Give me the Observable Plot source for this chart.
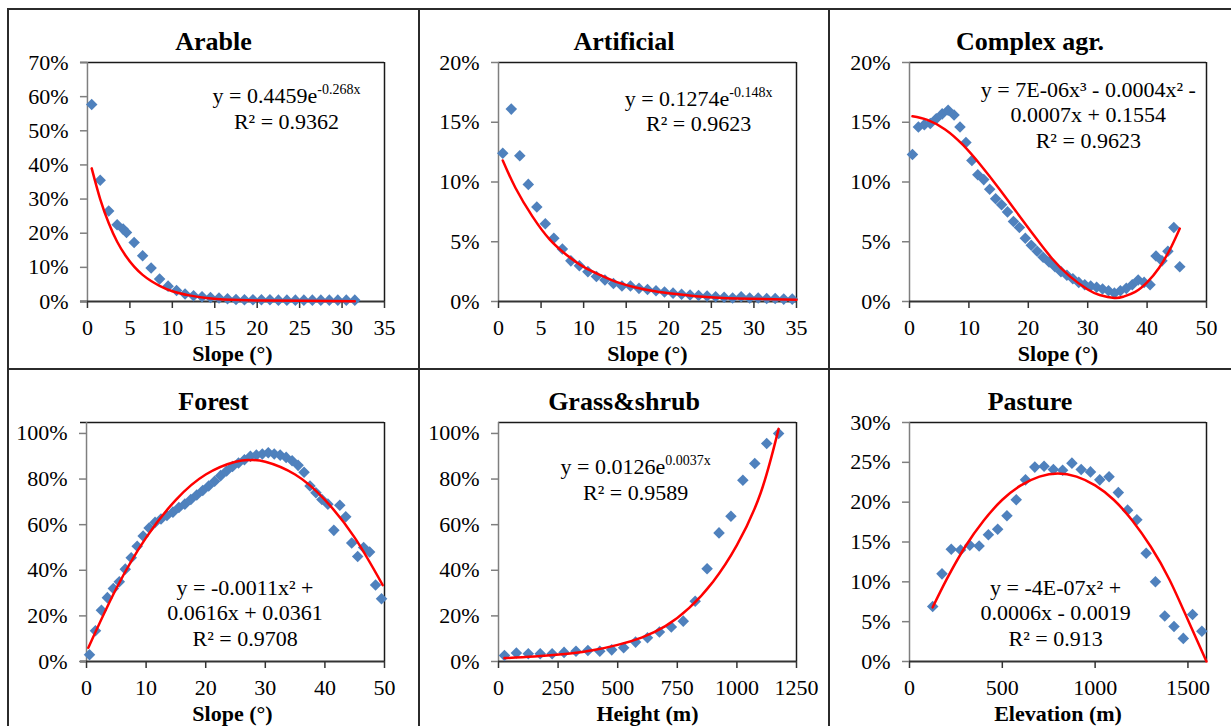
<!DOCTYPE html>
<html><head><meta charset="utf-8">
<script src="https://cdn.jsdelivr.net/npm/d3@7"></script>
<script src="https://cdn.jsdelivr.net/npm/@observablehq/plot@0.6"></script>
<style>
body{margin:0;background:#fff;width:1231px;height:726px;overflow:hidden;position:relative;font-family:"Liberation Serif","Times New Roman",serif;}
.cell{position:absolute;}
.cell svg{position:absolute;left:0;top:0;font-family:"Liberation Serif","Times New Roman",serif !important;}
.title{position:absolute;left:0;right:0;top:18px;height:30px;line-height:30px;text-align:center;font-weight:bold;font-size:26px;color:#000;}
.bline{position:absolute;background:#2b2b2b;}
</style></head><body>
<script>
// ---------- data (values in %) ----------
const arableX = [0.5,1.5,2.5,3.5,4.2,4.6,5.5,6.5,7.5,8.5,9.5,10.5,11.5,12.5,13.5,14.5,15.5,16.5,17.5,18.5,19.5,20.5,21.5,22.5,23.5,24.5,25.5,26.5,27.5,28.5,29.5,30.5,31.5];
const arableY = [57.7,35.5,26.5,22.5,21.2,20.2,17.3,13.4,9.8,6.6,4.5,3.2,2.2,1.7,1.4,1.2,1.0,0.8,0.6,0.5,0.5,0.5,0.5,0.4,0.4,0.4,0.4,0.4,0.4,0.4,0.4,0.4,0.4];
const arableFitX = [0.5,1.5,2.5,3.5,4.5,5.5,6.5,7.5,8.5,10,12,14,16,20,25,31.5];
const arableFitY = [39,30,23,17.5,13.4,10.2,7.8,6.0,4.6,3.0,1.8,1.0,0.6,0.3,0.2,0.1];

const artificialX = [0.5,1.5,2.5,3.5,4.5,5.5,6.5,7.5,8.5,9.5,10.5,11.5,12.5,13.5,14.5,15.5,16.5,17.5,18.5,19.5,20.5,21.5,22.5,23.5,24.5,25.5,26.5,27.5,28.5,29.5,30.5,31.5,32.5,33.5,34.5];
const artificialY = [12.4,16.1,12.2,9.8,7.9,6.5,5.3,4.4,3.4,3.0,2.5,2.1,1.8,1.5,1.3,1.3,1.1,1.0,0.9,0.8,0.7,0.6,0.55,0.5,0.45,0.4,0.35,0.3,0.4,0.3,0.3,0.25,0.25,0.2,0.2];
const artificialFitX = [0.5,2,4,6,8,10,12,14,16,18,20,24,28,35];
const artificialFitY = [11.8,9.5,7.1,5.2,3.9,2.9,2.2,1.6,1.2,0.9,0.7,0.4,0.25,0.15];

const complexX = [0.5,1.5,2.5,3.5,4.5,5.5,6.5,7.5,8.5,9.5,10.5,11.5,12.5,13.5,14.5,15.5,16.5,17.5,18.5,19.5,20.5,21.5,22.5,23.5,24.5,25.5,26.5,27.5,28.5,29.5,30.5,31.5,32.5,33.5,34.5,35.5,36.5,37.5,38.5,39.5,40.5,41.5,42.5,43.5,44.5,45.5];
const complexY = [12.3,14.6,14.8,14.9,15.3,15.7,16.0,15.6,14.6,13.3,11.8,10.6,10.2,9.4,8.6,8.1,7.5,6.7,6.2,5.3,4.7,4.2,3.7,3.3,2.9,2.5,2.2,1.9,1.6,1.4,1.3,1.2,1.05,0.9,0.7,0.9,1.1,1.4,1.8,1.6,1.4,3.8,3.4,4.2,6.2,2.9];
const complexFitX = [0.5,3,6,9,12,15,18,21,24,27,30,32,34.5,36,38,40,42,44,45.5];
const complexFitY = [15.5,15.2,14.4,13.1,11.4,9.5,7.5,5.5,3.6,2.1,1.0,0.55,0.3,0.4,0.8,1.6,2.8,4.5,6.1];

const forestX = [0.5,1.5,2.5,3.5,4.5,5.5,6.5,7.5,8.5,9.5,10.5,11.5,12.5,13.5,14.5,15.5,16.5,17.5,18.5,19.5,20.5,21.5,22.5,23.5,24.5,25.5,26.5,27.5,28.5,29.5,30.5,31.5,32.5,33.5,34.5,35.5,36.5,37.5,38.5,39.5,40.5,41.5,42.5,43.5,44.5,45.5,46.5,47.5,48.5,49.5];
const forestY = [3,13.5,22.5,28,32,35,40.5,45.5,50.5,55,58.5,61,62.5,64,65.5,67.5,69,71,73,75,77,79,81.5,83.5,85.5,87,88.5,90,90.5,91,91.5,91,90.5,89.5,88,86,83,77,74,71,69,57.5,68.5,63.5,52,46,50,48,33.5,27.5];
const forestFitX = [0.3,5,10,15,20,25,27.5,30,35,40,45,49.7];
const forestFitY = [6,32,54.3,70.9,82,87.6,88.3,87.6,82,70.9,54.3,33.5];

const grassX = [25,75,125,175,225,275,325,375,425,475,525,575,625,675,725,775,825,875,925,975,1025,1075,1125,1175];
const grassY = [2.6,3.7,3.4,3.4,3.4,4.0,4.5,4.8,4.5,5.1,6.0,8.5,10.4,12.9,15.1,17.7,26.4,40.7,56.4,63.7,79.5,86.8,95.6,100];
const grassFitX = [25,150,300,400,500,600,700,800,900,1000,1100,1175];
const grassFitY = [1.5,2.2,3.5,5,7.3,10.5,15.5,23.5,35,51,74,102];

const pastureX = [125,175,225,275,325,375,425,475,525,575,625,675,725,775,825,875,925,975,1025,1075,1125,1175,1225,1275,1325,1375,1425,1475,1525,1575];
const pastureY = [6.9,11.0,14.1,14.0,14.6,14.5,15.9,16.6,18.3,20.3,22.8,24.4,24.5,24.1,24.0,24.9,24.1,23.8,22.8,23.2,21.2,19.0,17.8,13.6,10.0,5.7,4.4,2.9,5.9,3.8];
const pastureFitX = [125,200,300,400,500,600,700,800,900,1000,1100,1200,1300,1400,1500,1600];
const pastureFitY = [6.8,10.3,14.4,17.7,20.3,22.1,23.2,23.6,23.2,22.1,20.3,17.7,14.4,10.3,5.2,0];

const titles = ["Arable","Artificial","Complex agr.","Forest","Grass&shrub","Pasture"];
const xLabels = ["Slope (°)","Slope (°)","Slope (°)","Slope (°)","Height (m)","Elevation (m)"];
const equations = [
  "y = 0.4459e^-0.268x\nR² = 0.9362",
  "y = 0.1274e^-0.148x\nR² = 0.9623",
  "y = 7E-06x³ - 0.0004x² -\n0.0007x + 0.1554\nR² = 0.9623",
  "y = -0.0011x² +\n0.0616x + 0.0361\nR² = 0.9708",
  "y = 0.0126e^0.0037x\nR² = 0.9589",
  "y = -4E-07x² +\n0.0006x - 0.0019\nR² = 0.913"
];
const xTicksList = [d3.range(0,36,5), d3.range(0,36,5), d3.range(0,51,10), d3.range(0,51,10), d3.range(0,1251,250), [0,500,1000,1500]];
const yTicksList = [d3.range(0,0.71,0.1), d3.range(0,0.201,0.05), d3.range(0,0.201,0.05), d3.range(0,1.01,0.2), d3.range(0,1.01,0.2), d3.range(0,0.301,0.05)];
const xDomains = [[-0.82,35],[0,35],[0,50],[-1.01,50],[0,1250],[0,1600]];
const yDomains = [[0,0.7],[0,0.2],[0,0.2],[0,1.048],[0,1.048],[0,0.3]];
const eqPos = [[23.45,0.567],[23.5,0.16],[30.1,0.1567],[26.6,0.217],[575,0.80],[787,0.0621]];

const series = [
  [arableX, arableY, arableFitX, arableFitY],
  [artificialX, artificialY, artificialFitX, artificialFitY],
  [complexX, complexY, complexFitX, complexFitY],
  [forestX, forestY, forestFitX, forestFitY],
  [grassX, grassY, grassFitX, grassFitY],
  [pastureX, pastureY, pastureFitX, pastureFitY]
];

// ---------- layout ----------
const colL = [8, 419, 829], colR = [419, 829, 1231];
const rowT = [9, 369], rowB = [369, 726];
const mL = [72, 79, 80], mR = [35, 33, 25];
const mT = [53, 53], mB = [68, 65];

const FONT = '"Liberation Serif","Times New Roman",serif';

function applySup(svg) {
  svg.querySelectorAll("text, tspan").forEach(el => {
    if (el.childNodes.length === 1 && el.firstChild.nodeType === 3 && el.textContent.includes("^")) {
      const [base, sup] = el.textContent.split("^");
      el.textContent = base;
      const t = document.createElementNS("http://www.w3.org/2000/svg", "tspan");
      t.setAttribute("font-size", "14");
      t.setAttribute("baseline-shift", "9");
      t.textContent = sup;
      el.appendChild(t);
    }
  });
}

for (let i = 0; i < 6; i++) {
  const c = i % 3, r = Math.floor(i / 3);
  const w = colR[c] - colL[c], h = rowB[r] - rowT[r];
  const [sx, sy, fx, fy] = series[i];
  const pts = sx.map((x, k) => ({x, y: sy[k] / 100}));
  const fit = fx.map((x, k) => ({x, y: fy[k] / 100}));
  const xd = xDomains[i], yd = yDomains[i];
  const frameW = w - mL[c] - mR[c];
  const axisDx = (0 - xd[0]) / (xd[1] - xd[0]) * frameW;

  const cell = document.createElement("div");
  cell.className = "cell";
  cell.style.left = colL[c] + "px";
  cell.style.top = rowT[r] + "px";
  cell.style.width = w + "px";
  cell.style.height = h + "px";

  const plot = Plot.plot({
    width: w, height: h,
    marginLeft: mL[c], marginRight: mR[c], marginTop: mT[r], marginBottom: mB[r],
    style: {fontFamily: FONT, fontSize: "22px", color: "#000", background: "transparent", overflow: "visible"},
    x: {domain: xd},
    y: {domain: yd},
    marks: [
      Plot.ruleY([yd[1]], {stroke: "#1a1a1a", strokeWidth: 1.5}),
      Plot.ruleX([xd[1]], {stroke: "#1a1a1a", strokeWidth: 1.5}),
      Plot.ruleX([0], {stroke: "#7f7f7f", strokeWidth: 1.5}),
      Plot.ruleY([0], {stroke: "#333", strokeWidth: 2}),
      Plot.axisX({ticks: xTicksList[i], tickSize: 7, tickPadding: 11, tickFormat: d => String(d), label: null, stroke: "#333", strokeWidth: 1.5, fontSize: 22, fontFamily: FONT, fill: "#000"}),
      Plot.axisY({ticks: yTicksList[i], tickSize: 7, tickPadding: 12, tickFormat: d => Math.round(d * 100) + "%", label: null, dx: axisDx, stroke: "#7f7f7f", strokeWidth: 1.5, fontSize: 22, fontFamily: FONT, fill: "#000"}),
      Plot.dot(pts, {x: "x", y: "y", symbol: "diamond2", r: 5.2, fill: "#4F81BD", stroke: null}),
      Plot.line(fit, {x: "x", y: "y", stroke: "#ff0000", strokeWidth: 2.5, curve: "natural"}),
      Plot.text([equations[i]], {x: () => eqPos[i][0], y: () => eqPos[i][1], fontSize: 22, fontFamily: FONT, lineHeight: 1.17, fill: "#000"}),
      Plot.text([xLabels[i]], {frameAnchor: "bottom", dy: 59, fontSize: 22, fontFamily: FONT, fontWeight: "bold", fill: "#000"})
    ]
  });
  applySup(plot);
  cell.appendChild(plot);

  const t = document.createElement("div");
  t.className = "title";
  t.textContent = titles[i];
  cell.appendChild(t);
  document.body.appendChild(cell);
}

// table borders
const borders = [
  [8, 8, 1223, 2], [7, 8, 2, 718], [418, 8, 2, 718], [828, 8, 2, 718], [8, 368, 1223, 2]
];
for (const [l, t, w, h] of borders) {
  const d = document.createElement("div");
  d.className = "bline";
  Object.assign(d.style, {left: l + "px", top: t + "px", width: w + "px", height: h + "px"});
  document.body.appendChild(d);
}
</script>
</body></html>
